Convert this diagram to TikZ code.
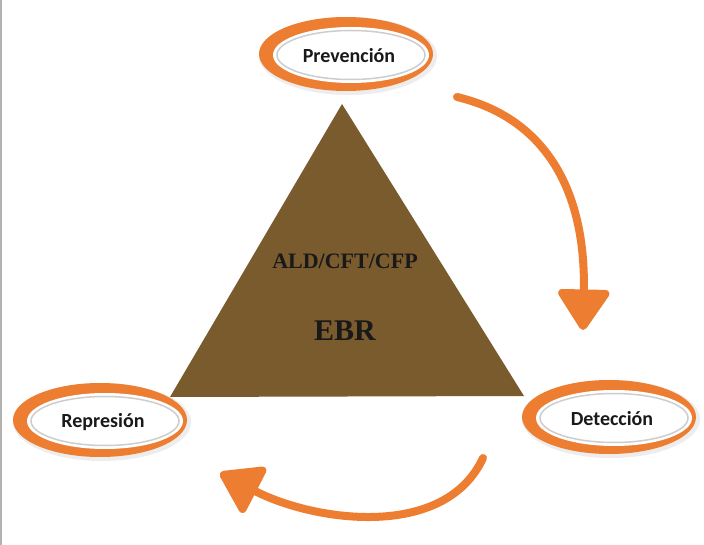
\documentclass[tikz,border=0pt]{standalone}
\usepackage{fontspec}
\setmainfont{Liberation Serif}
\newfontfamily\ringfont{Carlito}
\usetikzlibrary{arrows.meta, calc, shapes.geometric}

\definecolor{ringorange}{RGB}{237,125,49}
\definecolor{pyramidbrown}{RGB}{121,91,46}
\definecolor{ringgray}{RGB}{205,205,205}
\definecolor{labeltext}{RGB}{25,25,25}

\tikzset{
  ringshadow/.style={ellipse, fill=black!7, minimum width=178pt, minimum height=78pt, inner sep=0pt},
  ringouter/.style={ellipse, fill=ringorange, minimum width=174pt, minimum height=74pt, inner sep=0pt},
  ringgap/.style={ellipse, fill=white, minimum width=156pt, minimum height=56pt, inner sep=0pt},
  ringinner/.style={ellipse, draw=ringgray, line width=1.5pt, fill=white, minimum width=148pt, minimum height=49pt, inner sep=0pt},
  ringtext/.style={font=\ringfont\bfseries\fontsize{20}{24}\selectfont, text=labeltext, inner sep=0pt},
  pyramidtext/.style={font=\bfseries, text=labeltext},
  cyclearrow/.style={draw=ringorange, line width=8pt, line cap=round,
    -{Triangle[round, length=44pt, width=56pt]}},
}

% one orange ring with its label
\newcommand{\ringlabel}[3]{%
  \node[ringshadow] at ($#2+(2,2)$) {};
  \node[ringouter] (#1ring) at #2 {};
  \node[ringgap] at ($(#1ring)+(5,1)$) {};
  \node[ringinner] at ($(#1ring)+(5,1)$) {};
  \node[ringtext] (#1) at ($(#1ring)+(3,2)$) {#3};
}

\begin{document}
\begin{tikzpicture}[x=1pt, y=-1pt]
\useasboundingbox[fill=white] (0,0) rectangle (704,545);
\draw[black!30, line width=1.5pt] (0.75,0) -- (0.75,545);

% pyramid
\coordinate (apex)  at (342,104);
\coordinate (baseL) at (170,397);
\coordinate (baseR) at (524,396);
\fill[pyramidbrown] (apex) -- (baseR) -- (baseL) -- cycle;
\node[pyramidtext, font=\bfseries\fontsize{22}{24}\selectfont] (laws) at (345,261) {ALD/CFT/CFP};
\node[pyramidtext, font=\bfseries\fontsize{30}{34}\selectfont] (ebr) at (345,331) {EBR};

% rings
\ringlabel{prev}{(346,54)}{Prevención}
\ringlabel{repr}{(100,420)}{Represión}
\ringlabel{detec}{(609,417)}{Detección}

% arrows
\coordinate (arrAstart) at (457,97);
\coordinate (arrAend)   at (583,330);
\coordinate (arrBstart) at (483,458);
\coordinate (arrBend)   at (220,473);
\draw[cyclearrow] (arrAstart) .. controls (545,118) and (586,190) .. (arrAend);
\draw[cyclearrow] (arrBstart) .. controls (445,540) and (315,522) .. (arrBend);
\end{tikzpicture}
\end{document}
